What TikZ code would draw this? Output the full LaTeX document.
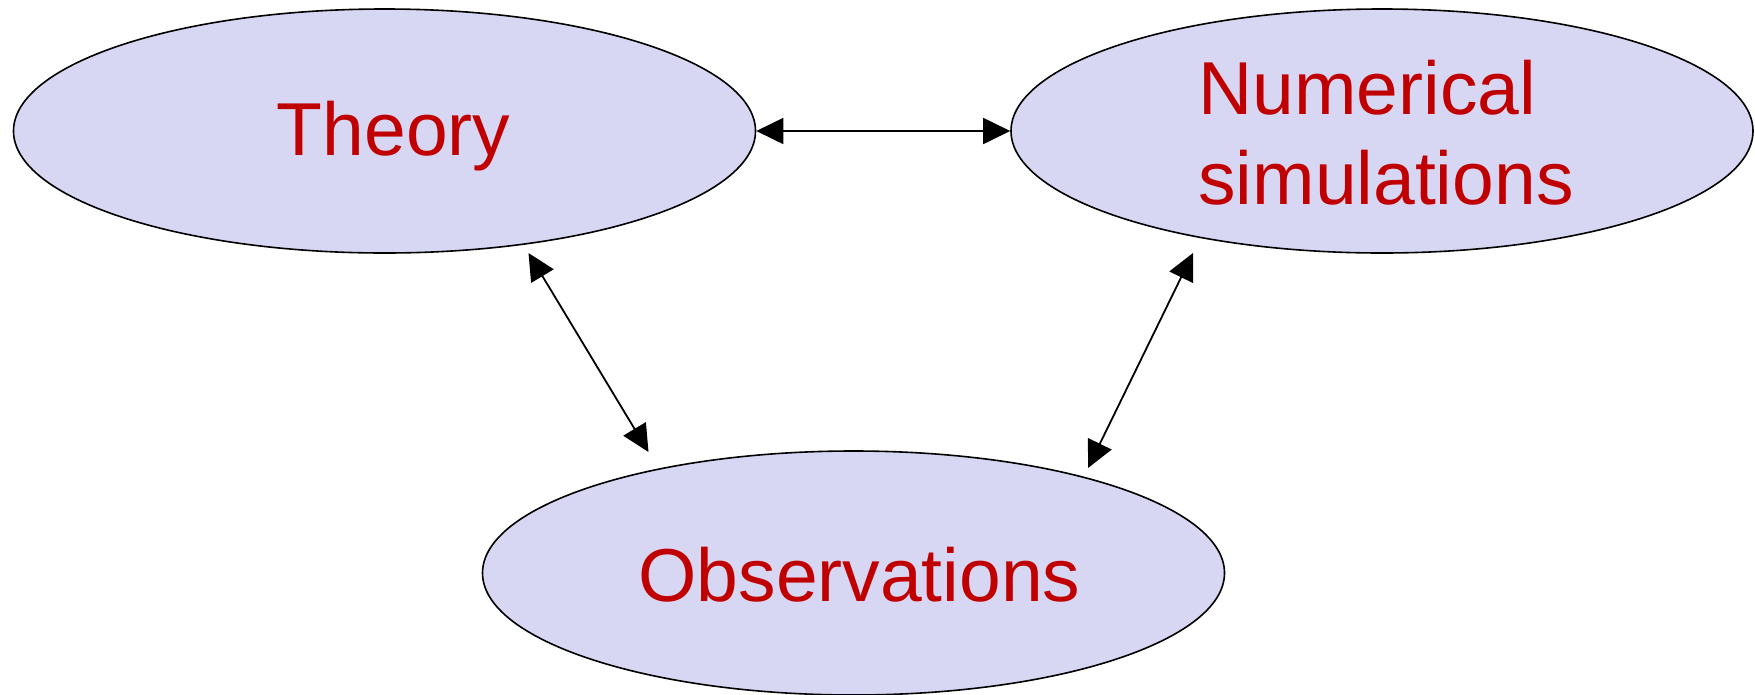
\documentclass[tikz,border=0pt]{standalone}
\usepackage{fontspec}
\setmainfont{Liberation Sans}
\usetikzlibrary{shapes.geometric,arrows.meta,calc}
\definecolor{ellfill}{HTML}{D7D7F3}
\definecolor{txtred}{HTML}{C00000}
\begin{document}
\begin{tikzpicture}[x=1pt,y=1pt,
  blob/.style={ellipse,draw=black,line width=1.6pt,fill=ellfill,minimum width=742pt,minimum height=244pt,inner sep=0pt},
  lbl/.style={text=txtred,font=\fontsize{75}{90}\selectfont,align=left,inner sep=0pt},
  link/.style={line width=1.8pt,{Triangle[length=27pt,width=26pt]}-{Triangle[length=27pt,width=26pt]}}]
\useasboundingbox (0,0) rectangle (1755,-694);
\node[blob] (theory) at (384.5,-131) {};
\node[blob] (numsim) at (1382,-131) {};
\node[blob] (obs) at (853.5,-573) {};
\node[lbl] (theoryT) at ($(theory.center)+(9,-5)$) {Theory};
\node[lbl] (numsimT) at ($(numsim.center)+(4,-2)$) {Numerical\\simulations};
\node[lbl] (obsT) at ($(obs.center)+(6,-2)$) {Observations};
\coordinate (t1) at ($(theory.center)+(144,-122)$);
\coordinate (o1) at ($(obs.center)+(-205,121)$);
\coordinate (n1) at ($(numsim.center)+(-189,-122)$);
\coordinate (o2) at ($(obs.center)+(234.5,105)$);
\draw[link] (theory.east) -- (numsim.west);
\draw[link] (t1) -- (o1);
\draw[link] (n1) -- (o2);
\end{tikzpicture}
\end{document}
